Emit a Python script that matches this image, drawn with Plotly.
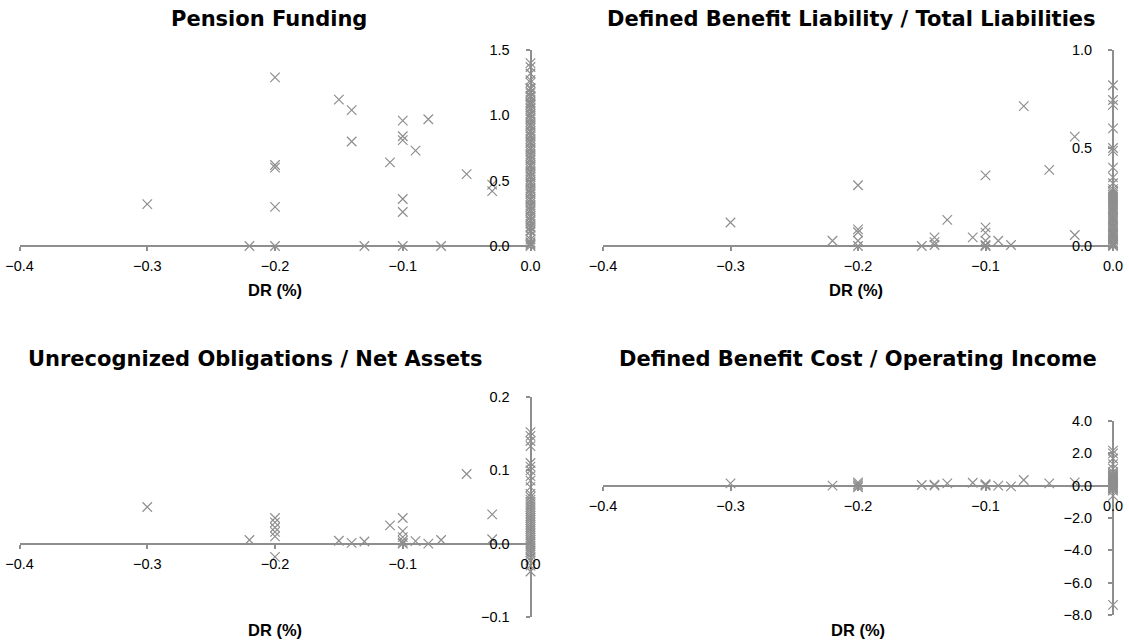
import plotly.graph_objects as go

# ---------------- data ----------------
# Panel 1: Pension Funding
p1_dr = [-0.3, -0.22, -0.2, -0.2, -0.2, -0.2, -0.2, -0.15, -0.14, -0.14, -0.13, -0.11,
         -0.1, -0.1, -0.1, -0.1, -0.1, -0.1, -0.09, -0.08, -0.07, -0.05, -0.03, -0.03]
p1_val = [0.32, 0.0, 1.29, 0.62, 0.60, 0.30, 0.0, 1.12, 1.04, 0.80, 0.0, 0.64,
          0.96, 0.84, 0.81, 0.36, 0.26, 0.0, 0.73, 0.97, 0.0, 0.55, 0.42, 0.47]
p1_zero = [1.40, 1.37, 1.32, 1.27, 1.25, 1.21, 1.20, 1.18, 1.17, 1.15, 1.14, 1.12, 1.10,
           1.09, 1.08, 1.06, 1.05, 1.03, 1.01, 1.00, 0.98, 0.97, 0.95, 0.93, 0.92, 0.90,
           0.88, 0.87, 0.85, 0.84, 0.82, 0.80, 0.79, 0.77, 0.75, 0.74, 0.72, 0.70, 0.69,
           0.67, 0.66, 0.64, 0.62, 0.61, 0.59, 0.57, 0.56, 0.54, 0.53, 0.51, 0.49, 0.48,
           0.46, 0.44, 0.43, 0.41, 0.40, 0.38, 0.36, 0.35, 0.33, 0.31, 0.30, 0.28, 0.27,
           0.25, 0.23, 0.22, 0.20, 0.19, 0.17, 0.15, 0.14, 0.12, 0.11, 0.08, 0.05, 0.03,
           0.02, 0.01, 0.0]

# Panel 2: Defined Benefit Liability / Total Liabilities
p2_dr = [-0.3, -0.22, -0.2, -0.2, -0.2, -0.2, -0.2, -0.15, -0.14, -0.14, -0.14, -0.13,
         -0.11, -0.1, -0.1, -0.1, -0.1, -0.1, -0.1, -0.09, -0.08, -0.07, -0.05, -0.03, -0.03]
p2_val = [0.12, 0.027, 0.31, 0.085, 0.07, 0.027, 0.0, 0.0, 0.044, 0.02, 0.005, 0.133,
          0.044, 0.36, 0.095, 0.068, 0.027, 0.005, 0.0, 0.027, 0.005, 0.714, 0.388, 0.558, 0.056]
p2_zero = [0.82, 0.745, 0.72, 0.60, 0.50, 0.485, 0.40, 0.35, 0.32, 0.29, 0.28, 0.27,
           0.26, 0.25, 0.24, 0.23, 0.22, 0.21, 0.20, 0.19, 0.18, 0.17, 0.16, 0.15, 0.145,
           0.14, 0.13, 0.12, 0.11, 0.10, 0.095, 0.09, 0.08, 0.07, 0.065, 0.06, 0.05, 0.04,
           0.035, 0.03, 0.02, 0.015, 0.01, 0.005, 0.0]

# Panel 3: Unrecognized Obligations / Net Assets
p3_dr = [-0.3, -0.22, -0.2, -0.2, -0.2, -0.2, -0.2, -0.2, -0.15, -0.14, -0.13, -0.11,
         -0.1, -0.1, -0.1, -0.1, -0.1, -0.1, -0.09, -0.08, -0.07, -0.05, -0.03, -0.03]
p3_val = [0.050, 0.005, 0.035, 0.029, 0.022, 0.016, 0.010, -0.018, 0.004, 0.001, 0.003, 0.025,
          0.035, 0.017, 0.009, 0.004, 0.001, 0.0, 0.0035, 0.0, 0.005, 0.095, 0.040, 0.006]
p3_zero = [0.152, 0.147, 0.140, 0.133, 0.110, 0.105, 0.100, 0.092, 0.086, 0.077, 0.068,
           0.064, 0.060, 0.057, 0.054, 0.050, 0.047, 0.044, 0.041, 0.038, 0.035, 0.032,
           0.029, 0.026, 0.023, 0.020, 0.017, 0.014, 0.011, 0.008, 0.005, 0.002, 0.0,
           -0.003, -0.006, -0.009, -0.012, -0.015, -0.019, -0.023, -0.030, -0.038]

# Panel 4: Defined Benefit Cost / Operating Income
p4_dr = [-0.3, -0.22, -0.2, -0.2, -0.2, -0.2, -0.15, -0.14, -0.14, -0.13, -0.11,
         -0.1, -0.1, -0.1, -0.09, -0.08, -0.07, -0.05, -0.03]
p4_val = [0.14, 0.0, 0.2, 0.1, 0.0, -0.1, 0.04, 0.0, 0.06, 0.14, 0.18,
          0.1, 0.0, 0.04, 0.0, -0.04, 0.35, 0.14, 0.2]
p4_zero = [2.17, 2.0, 1.68, 1.33, 1.05, 0.84, 0.74, 0.66, 0.60, 0.55, 0.50, 0.45, 0.40,
           0.35, 0.30, 0.25, 0.20, 0.15, 0.10, 0.05, 0.0, -0.05, -0.10, -0.15, -0.20,
           -0.30, -0.63, -7.37]

titles = ["Pension Funding",
          "Defined Benefit Liability / Total Liabilities",
          "Unrecognized Obligations / Net Assets",
          "Defined Benefit Cost / Operating Income"]
x_label = "DR (%)"
x_ticks = [-0.4, -0.3, -0.2, -0.1, 0.0]
y_ranges = [[0, 1.5], [0, 1.0], [-0.1, 0.2], [-8, 4]]
y_dticks = [0.5, 0.5, 0.1, 2.0]

# ---------------- layout helpers (pixels -> paper) ----------------
W, H = 1129, 644
def px(x):
    return x / W
def py(y):
    return 1 - y / H

x_dom = [[px(19.5), px(530.5)], [px(603), px(1113)], [px(19.5), px(530.5)], [px(603), px(1113)]]
y_dom = [[py(246), py(50)], [py(246), py(50)], [py(617), py(397)], [py(615), py(421)]]
title_pos = [(269, 19), (851, 19), (255, 359), (858, 359)]
xlab_pos = [(275, 290), (856, 290), (275, 630), (858, 630)]

GRAY = "#8e8e8e"
FONT = "Liberation Sans, Arial, sans-serif"
TFONT = "DejaVu Sans, Liberation Sans, sans-serif"

fig = go.Figure()
series = [(p1_dr, p1_val, p1_zero), (p2_dr, p2_val, p2_zero),
          (p3_dr, p3_val, p3_zero), (p4_dr, p4_val, p4_zero)]
for i, (dr, val, zero) in enumerate(series):
    sfx = "" if i == 0 else str(i + 1)
    xs = list(dr) + [0.0] * len(zero)
    ys = list(val) + list(zero)
    fig.add_trace(go.Scatter(
        x=xs, y=ys, mode="markers", xaxis="x" + sfx, yaxis="y" + sfx,
        cliponaxis=False, showlegend=False, hoverinfo="skip",
        marker=dict(symbol="x-thin", size=9.5, color=GRAY,
                    line=dict(width=1.2, color=GRAY)),
    ))

layout = dict(width=W, height=H, margin=dict(l=0, r=0, t=0, b=0, autoexpand=False),
              paper_bgcolor="white", plot_bgcolor="white",
              font=dict(family=FONT, size=14, color="black"), annotations=[])
for i in range(4):
    sfx = "" if i == 0 else str(i + 1)
    yr = y_ranges[i]
    yd = y_dom[i]
    zero_pos = yd[0] + (0 - yr[0]) / (yr[1] - yr[0]) * (yd[1] - yd[0])
    layout["xaxis" + sfx] = dict(
        domain=x_dom[i], range=[-0.4, 0.0], anchor="free", position=zero_pos,
        tickvals=x_ticks, tickformat=".1f", showgrid=False, zeroline=False,
        showline=True, linecolor=GRAY, linewidth=2, ticks="outside", ticklen=4,
        tickcolor=GRAY, tickwidth=1.5, tickfont=dict(size=14.5, color="black"),
        ticklabelstandoff=3, automargin=False, fixedrange=True,
    )
    layout["yaxis" + sfx] = dict(
        domain=yd, range=yr, anchor="free", position=x_dom[i][1], side="left",
        dtick=y_dticks[i], tick0=0, tickformat=".1f", showgrid=False, zeroline=False,
        showline=True, linecolor=GRAY, linewidth=2, ticks="outside", ticklen=4,
        tickcolor=GRAY, tickwidth=1.5, tickfont=dict(size=14.5, color="black"),
        ticklabelstandoff=13, automargin=False, fixedrange=True,
    )
    tx, ty = title_pos[i]
    layout["annotations"].append(dict(
        text="<b>" + titles[i] + "</b>", x=px(tx), y=py(ty), xref="paper", yref="paper",
        xanchor="center", yanchor="middle", showarrow=False,
        font=dict(size=21, family=TFONT, color="black")))
    lx, ly = xlab_pos[i]
    layout["annotations"].append(dict(
        text="<b>" + x_label + "</b>", x=px(lx), y=py(ly), xref="paper", yref="paper",
        xanchor="center", yanchor="middle", showarrow=False,
        font=dict(size=16.5, family=FONT, color="black")))

fig.update_layout(**layout)
fig.write_html("out.html", config={"displayModeBar": False},
               post_script="document.body.style.margin='0px';")
